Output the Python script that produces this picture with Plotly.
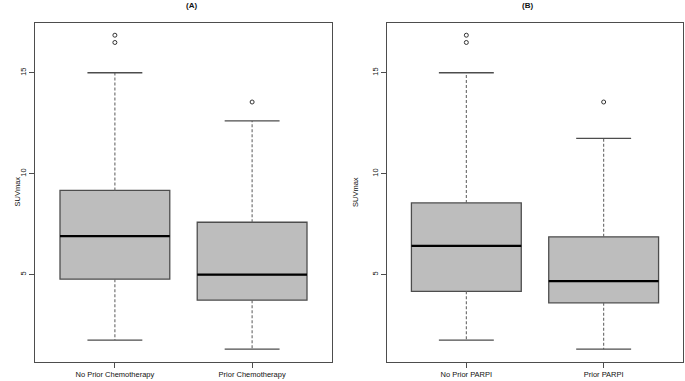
import plotly.graph_objects as go

# ---- data ----
groups_A = ["No Prior Chemotherapy", "Prior Chemotherapy"]
lower_A = [1.75, 1.30]
q1_A = [4.77, 3.73]
med_A = [6.90, 5.00]
q3_A = [9.17, 7.59]
upper_A = [15.0, 12.61]
outliers_A = [[16.50, 16.86], [13.55]]

groups_B = ["No Prior PARPI", "Prior PARPI"]
lower_B = [1.75, 1.30]
q1_B = [4.17, 3.60]
med_B = [6.42, 4.67]
q3_B = [8.55, 6.87]
upper_B = [15.0, 11.75]
outliers_B = [[16.50, 16.86], [13.55]]

panel_titles = ["(A)", "(B)"]
y_label = "SUVmax"
y_ticks = [5, 10, 15]

# ---- style ----
FONT = "Liberation Sans, Arial, Helvetica, sans-serif"
FILL = "#bdbdbd"
EDGE = "#4d4d4d"
WHISK = "#666666"
TXT = "#111111"
BOXW = 0.8
CAPW = 0.4

fig = go.Figure()


def add_panel(ax, groups, lower, q1, med, q3, upper, outliers):
    xa = "x" if ax == 1 else "x2"
    ya = "y" if ax == 1 else "y2"
    for i, g in enumerate(groups):
        pos = i + 1
        fig.add_trace(go.Box(
            x=[pos], q1=[q1[i]], median=[med[i]], q3=[q3[i]],
            lowerfence=[q1[i]], upperfence=[q3[i]],
            width=BOXW, fillcolor=FILL, line=dict(color=EDGE, width=1.3),
            boxpoints=False, xaxis=xa, yaxis=ya, showlegend=False,
            hoverinfo="skip"))
        # median
        fig.add_trace(go.Scatter(
            x=[pos - BOXW / 2, pos + BOXW / 2], y=[med[i], med[i]], mode="lines",
            line=dict(color="black", width=2.2), xaxis=xa, yaxis=ya,
            showlegend=False, hoverinfo="skip"))
        # whiskers
        for a, b in ((q3[i], upper[i]), (q1[i], lower[i])):
            fig.add_trace(go.Scatter(
                x=[pos, pos], y=[a, b], mode="lines",
                line=dict(color=WHISK, width=1.1, dash="3px,2px"),
                xaxis=xa, yaxis=ya, showlegend=False, hoverinfo="skip"))
        # caps
        for v in (upper[i], lower[i]):
            fig.add_trace(go.Scatter(
                x=[pos - CAPW / 2, pos + CAPW / 2], y=[v, v], mode="lines",
                line=dict(color=EDGE, width=1.3),
                xaxis=xa, yaxis=ya, showlegend=False, hoverinfo="skip"))
        # outliers
        if outliers[i]:
            fig.add_trace(go.Scatter(
                x=[pos] * len(outliers[i]), y=outliers[i], mode="markers",
                marker=dict(symbol="circle-open", size=4, color="#333333",
                            line=dict(width=1)),
                xaxis=xa, yaxis=ya, showlegend=False, hoverinfo="skip"))


add_panel(1, groups_A, lower_A, q1_A, med_A, q3_A, upper_A, outliers_A)
add_panel(2, groups_B, lower_B, q1_B, med_B, q3_B, upper_B, outliers_B)

W, H = 685, 381
axis_common = dict(showline=True, mirror=True, linecolor=EDGE, linewidth=1.3,
                   ticks="outside", ticklen=5, tickcolor=EDGE, tickwidth=1,
                   showgrid=False, zeroline=False, automargin=False,
                   tickfont=dict(family=FONT, size=7.5, color=TXT))

ymin, ymax = 0.68, 17.48
fig.update_layout(
    width=W, height=H, margin=dict(l=0, r=0, t=0, b=0),
    paper_bgcolor="white", plot_bgcolor="white",
    font=dict(family=FONT, size=7.5, color=TXT),
    xaxis=dict(domain=[35.3 / W, 331.7 / W], range=[0.42, 2.58],
               tickvals=[1, 2], ticktext=groups_A, anchor="y", **axis_common),
    xaxis2=dict(domain=[386.7 / W, 683.3 / W], range=[0.42, 2.58],
                tickvals=[1, 2], ticktext=groups_B, anchor="y2", **axis_common),
    yaxis=dict(domain=[(H - 361.7) / H, (H - 22.7) / H], range=[ymin, ymax],
               tickvals=y_ticks, tickangle=-90, anchor="x", **axis_common),
    yaxis2=dict(domain=[(H - 361.7) / H, (H - 22.7) / H], range=[ymin, ymax],
                tickvals=y_ticks, tickangle=-90, anchor="x2", **axis_common),
    annotations=[
        dict(text="<b>" + panel_titles[0] + "</b>", x=183.5 / W, y=1 - 5.5 / H,
             xref="paper", yref="paper", showarrow=False,
             font=dict(family=FONT, size=8, color=TXT), yanchor="middle"),
        dict(text="<b>" + panel_titles[1] + "</b>", x=535 / W, y=1 - 5.5 / H,
             xref="paper", yref="paper", showarrow=False,
             font=dict(family=FONT, size=8, color=TXT), yanchor="middle"),
        dict(text=y_label, x=10 / W, y=1 - 192 / H, xref="paper", yref="paper",
             showarrow=False, textangle=-90,
             font=dict(family=FONT, size=7.5, color=TXT)),
        dict(text=y_label, x=355 / W, y=1 - 192 / H, xref="paper", yref="paper",
             showarrow=False, textangle=-90,
             font=dict(family=FONT, size=7.5, color=TXT)),
    ],
)

fig.write_html("out.html")
